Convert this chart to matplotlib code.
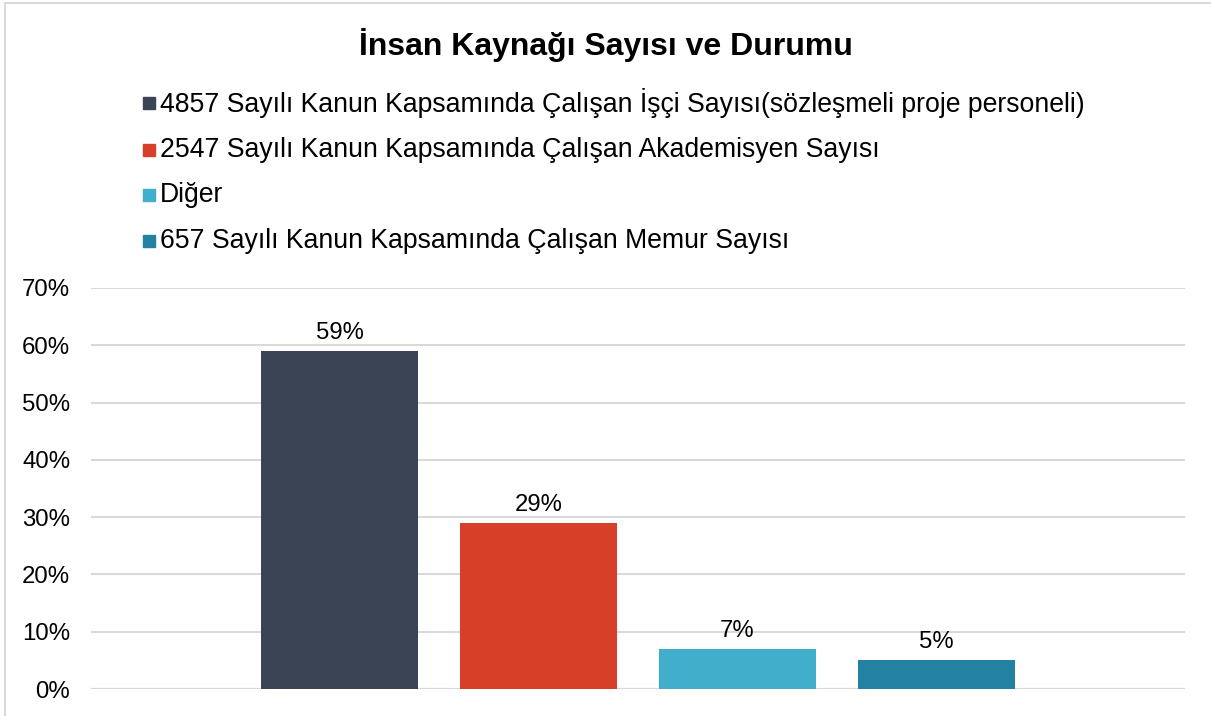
import matplotlib.pyplot as plt
import matplotlib.patches as mpatches
from matplotlib.ticker import FuncFormatter

plt.rcParams['font.family'] = ['Liberation Sans', 'DejaVu Sans']

# data
series = ["4857 Sayılı Kanun Kapsamında Çalışan İşçi Sayısı(sözleşmeli proje personeli)",
          "2547 Sayılı Kanun Kapsamında Çalışan Akademisyen Sayısı",
          "Diğer",
          "657 Sayılı Kanun Kapsamında Çalışan Memur Sayısı"]
values = [0.59, 0.29, 0.07, 0.05]
colors = ["#3B4455", "#D83F28", "#41AECB", "#2381A2"]
yticks = [0, 0.1, 0.2, 0.3, 0.4, 0.5, 0.6, 0.7]

fig = plt.figure(figsize=(12.11, 7.16), dpi=100)
W, H = 1211, 716

# chart border (runs off right/bottom edges)
fig.patches.append(mpatches.Rectangle((5 / W, -0.05), 1.1, 1 - 3 / H + 0.05,
                                      transform=fig.transFigure, fill=False,
                                      edgecolor="#D9D9D9", linewidth=1.5))

ax = fig.add_axes([91 / W, 1 - 689 / H, (1185 - 91) / W, (689 - 288) / H])
xs = range(len(values))
bars = ax.bar(xs, values, width=0.79, color=colors, zorder=3)
for x, v in zip(xs, values):
    ax.text(x, v + 0.012, f"{v:.0%}", ha="center", va="bottom", fontsize=17.2)

ax.set_xlim(-1.251, 4.251)
ax.set_ylim(0, 0.7)
ax.set_yticks(yticks)
ax.yaxis.set_major_formatter(FuncFormatter(lambda v, p: f"{v:.0%}"))
ax.tick_params(axis="y", length=0, labelsize=17.3, pad=15)
ax.set_xticks([])
ax.grid(axis="y", color="#D9D9D9", linewidth=1.5, zorder=0)
for s in ax.spines.values():
    s.set_visible(False)
ax.axhline(0, color="#D9D9D9", linewidth=1.5, zorder=2)

fig.text(606 / W, 1 - 45 / H, "İnsan Kaynağı Sayısı ve Durumu", ha="center",
         va="center", fontsize=23, fontweight="bold")

legend_y = [103, 150, 195, 241]
for name, c, y in zip(series, colors, legend_y):
    fig.patches.append(mpatches.Rectangle((143 / W, 1 - (y + 6) / H), 12 / W, 12 / H,
                                          transform=fig.transFigure, color=c))
    fig.text(160 / W, 1 - y / H, name, ha="left", va="center", fontsize=19.2)

fig.savefig("out.png", dpi=100)
